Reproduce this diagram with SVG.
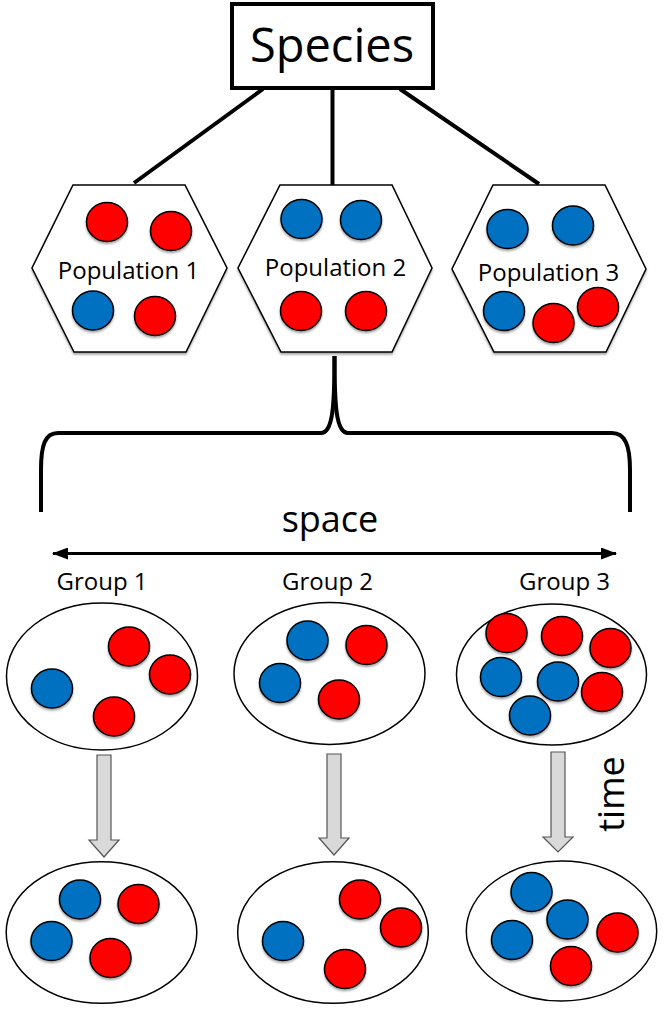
<svg xmlns="http://www.w3.org/2000/svg" xmlns:xlink="http://www.w3.org/1999/xlink" width="664" height="1014" viewBox="0 0 664 1014">
<style>
.txt{font-family:"Open Sans","Liberation Sans",sans-serif;fill:#000}
.lbl{font-size:24px;text-anchor:middle}
.big{font-size:36px;text-anchor:middle}
.hex{fill:#fff;stroke:#000;stroke-width:1.5}
.ell{fill:#fff;stroke:#000;stroke-width:1.5}
.red{fill:#ff0000}
.blue{fill:#0070c0}
.dot{stroke:#000;stroke-width:1.5}
.conn{stroke:#000;stroke-width:4;fill:none;stroke-linecap:butt}
.down{fill:#d9d9d9;stroke:#555;stroke-width:1.2}
</style>
<defs>
<ellipse id="c" cx="0" cy="0" rx="20.5" ry="19.5"/>
<filter id="sh" x="-20%" y="-20%" width="140%" height="150%">
<feDropShadow dx="0" dy="2" stdDeviation="1.2" flood-color="#000" flood-opacity="0.35"/>
</filter>
<marker id="ah" viewBox="0 0 16 12" refX="15" refY="6" markerWidth="16" markerHeight="12" markerUnits="userSpaceOnUse" orient="auto-start-reverse">
<path d="M0,0 L16,6 L0,12 Z" fill="#000"/>
</marker>
</defs>

<g id="connectors">
<line class="conn" x1="263" y1="89" x2="134" y2="183"/>
<line class="conn" x1="332.5" y1="89" x2="332.5" y2="185"/>
<line class="conn" x1="400" y1="89" x2="539" y2="184"/>
<path class="conn" d="M334.5,356 C334.5,405 333,433 321,433 L58,433 C45,433 41,445 41,470 L41,512"/>
<path class="conn" d="M334.5,356 C334.5,405 336,433 348,433 L612,433 C625,433 630,445 630,470 L630,512"/>
<line id="space-axis" x1="53" y1="553.5" x2="616" y2="553.5" stroke="#000" stroke-width="3" marker-start="url(#ah)" marker-end="url(#ah)"/>
<path class="down" d="M97,755 L111,755 L111,840 L119,840 L104,857 L89,840 L97,840 Z"/>
<path class="down" d="M327,754 L341,754 L341,838 L349,838 L334,855 L319,838 L327,838 Z"/>
<path class="down" d="M551,752 L565,752 L565,837 L573,837 L558,852 L543,837 L551,837 Z"/>
</g>

<g id="species">
<rect x="232" y="4" width="201" height="84" fill="#fff" stroke="#000" stroke-width="4"/>
<text class="txt" x="332" y="62" font-size="47" text-anchor="middle">Species</text>
</g>

<g id="pop1">
<polygon class="hex" filter="url(#sh)" points="73,185 185,185 227,268 186,352 74,352 32,268"/>
<g filter="url(#sh)">
<use href="#c" x="107" y="222" class="red dot"/>
<use href="#c" x="171" y="231" class="red dot"/>
<use href="#c" x="93" y="310.5" class="blue dot"/>
<use href="#c" x="155" y="316" class="red dot"/>
</g>
<text class="txt lbl" x="128.5" y="279">Population 1</text>
</g>

<g id="pop2">
<polygon class="hex" filter="url(#sh)" points="280,185 392,185 432,268 392,352 281,352 238,268"/>
<g filter="url(#sh)">
<use href="#c" x="301.5" y="219" class="blue dot"/>
<use href="#c" x="361" y="220" class="blue dot"/>
<use href="#c" x="301" y="311" class="red dot"/>
<use href="#c" x="366" y="311" class="red dot"/>
</g>
<text class="txt lbl" x="335.5" y="276">Population 2</text>
</g>

<g id="pop3">
<polygon class="hex" filter="url(#sh)" points="493,185 605,185 646,269 606,352 494,352 452,269"/>
<g filter="url(#sh)">
<use href="#c" x="507.5" y="229" class="blue dot"/>
<use href="#c" x="573" y="225.5" class="blue dot"/>
<use href="#c" x="504" y="311" class="blue dot"/>
<use href="#c" x="598" y="307" class="red dot"/>
<use href="#c" x="553.5" y="323" class="red dot"/>
</g>
<text class="txt lbl" x="548.5" y="281">Population 3</text>
</g>

<g id="space-label">
<text class="txt big" x="330" y="532">space</text>
</g>

<g id="group1">
<text class="txt lbl" x="102" y="590">Group 1</text>
<ellipse class="ell" cx="102" cy="676.5" rx="95.5" ry="73.5"/>
<g filter="url(#sh)">
<use href="#c" x="129" y="646.5" class="red dot"/>
<use href="#c" x="170" y="674.5" class="red dot"/>
<use href="#c" x="52" y="688.5" class="blue dot"/>
<use href="#c" x="114" y="716.5" class="red dot"/>
</g>
</g>

<g id="group2">
<text class="txt lbl" x="327.5" y="590">Group 2</text>
<ellipse class="ell" cx="329.5" cy="673.5" rx="95.5" ry="71"/>
<g filter="url(#sh)">
<use href="#c" x="307.5" y="640.5" class="blue dot"/>
<use href="#c" x="366.5" y="645" class="red dot"/>
<use href="#c" x="280" y="683" class="blue dot"/>
<use href="#c" x="339" y="699.5" class="red dot"/>
</g>
</g>

<g id="group3">
<text class="txt lbl" x="564.5" y="590">Group 3</text>
<ellipse class="ell" cx="551.5" cy="674.5" rx="95" ry="70.5"/>
<g filter="url(#sh)">
<use href="#c" x="506.5" y="633" class="red dot"/>
<use href="#c" x="562" y="636" class="red dot"/>
<use href="#c" x="610.5" y="648" class="red dot"/>
<use href="#c" x="501" y="677" class="blue dot"/>
<use href="#c" x="558" y="681.5" class="blue dot"/>
<use href="#c" x="602" y="692" class="red dot"/>
<use href="#c" x="530" y="715.5" class="blue dot"/>
</g>
</g>

<g id="time-label">
<text class="txt big" transform="translate(624,794) rotate(-90)" x="0" y="0">time</text>
</g>

<g id="group1-later">
<ellipse class="ell" cx="101.5" cy="932.5" rx="95.3" ry="70.8"/>
<g filter="url(#sh)">
<use href="#c" x="80" y="899.5" class="blue dot"/>
<use href="#c" x="138.5" y="904" class="red dot"/>
<use href="#c" x="51.5" y="941" class="blue dot"/>
<use href="#c" x="110.5" y="958" class="red dot"/>
</g>
</g>

<g id="group2-later">
<ellipse class="ell" cx="333" cy="932.5" rx="95.3" ry="70.8"/>
<g filter="url(#sh)">
<use href="#c" x="360" y="899.5" class="red dot"/>
<use href="#c" x="401" y="927.5" class="red dot"/>
<use href="#c" x="283" y="941" class="blue dot"/>
<use href="#c" x="345" y="969" class="red dot"/>
</g>
</g>

<g id="group3-later">
<ellipse class="ell" cx="561.5" cy="931" rx="95.2" ry="70"/>
<g filter="url(#sh)">
<use href="#c" x="531.5" y="892" class="blue dot"/>
<use href="#c" x="567.5" y="919.5" class="blue dot"/>
<use href="#c" x="617.5" y="932.5" class="red dot"/>
<use href="#c" x="512" y="940" class="blue dot"/>
<use href="#c" x="571" y="966" class="red dot"/>
</g>
</g>
</svg>
